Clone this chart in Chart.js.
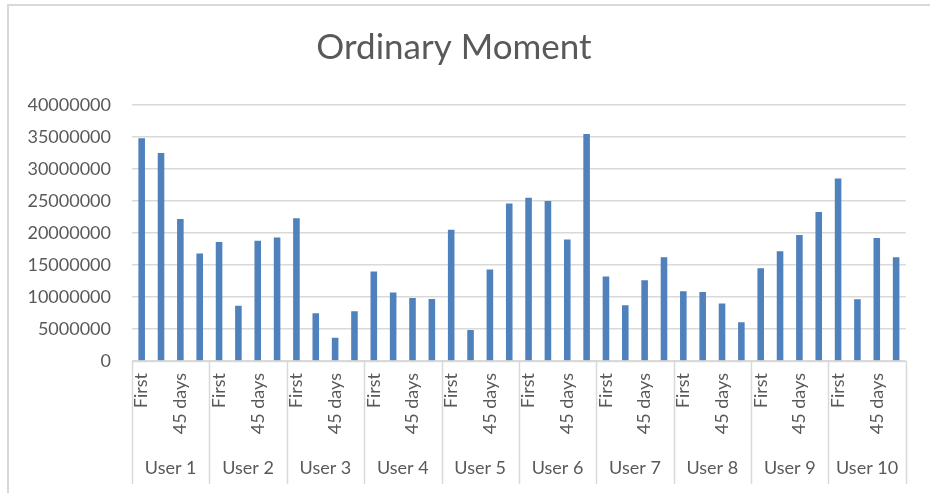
<!DOCTYPE html>
<html>
<head>
<meta charset="utf-8">
<script src="https://cdn.jsdelivr.net/npm/chart.js@4.4.1/dist/chart.umd.min.js"></script>
<style>
  html, body { margin: 0; padding: 0; background: #ffffff; }
  #wrap { position: relative; width: 930px; height: 493px; overflow: hidden; }
  #frame { position: absolute; left: 7px; top: 4px; width: 940px; height: 500px;
           border-left: 2px solid #d9d9d9; border-top: 2px solid #d9d9d9; box-sizing: border-box; }
  canvas { position: absolute; left: 0; top: 0; }
</style>
</head>
<body>
<div id="wrap">
  <div id="frame"></div>
  <canvas id="c" width="930" height="493"></canvas>
</div>
<script>
// ---- data ----
const users = ['User 1','User 2','User 3','User 4','User 5','User 6','User 7','User 8','User 9','User 10'];
const innerLabels = ['First', '', '45 days', ''];
const user1  = [34800000, 32500000, 22200000, 16800000];
const user2  = [18600000,  8650000, 18800000, 19300000];
const user3  = [22300000,  7460000,  3650000,  7770000];
const user4  = [14000000, 10700000,  9850000,  9700000];
const user5  = [20500000,  4850000, 14300000, 24600000];
const user6  = [25500000, 25000000, 19000000, 35450000];
const user7  = [13200000,  8700000, 12600000, 16200000];
const user8  = [10900000, 10800000,  9000000,  6050000];
const user9  = [14500000, 17150000, 19700000, 23300000];
const user10 = [28500000,  9650000, 19200000, 16200000];
const yTicks = [0, 5000000, 10000000, 15000000, 20000000, 25000000, 30000000, 35000000, 40000000];

const perUser = [user1, user2, user3, user4, user5, user6, user7, user8, user9, user10];
const labels = [];
const values = [];
perUser.forEach((arr, u) => arr.forEach((v, i) => { labels.push(innerLabels[i]); values.push(v); }));
const groupSize = innerLabels.length;

const FONT = 'Lato, "Open Sans", sans-serif';
const TXT = '#595959';
const GRID = '#d9d9d9';

const separators = {
  id: 'separators',
  afterDraw(chart) {
    const x = chart.scales.x, x2 = chart.scales.x2;
    const ctx = chart.ctx;
    const half = (x.getPixelForValue(1) - x.getPixelForValue(0)) / 2;
    ctx.save();
    ctx.strokeStyle = GRID;
    ctx.lineWidth = 1.5;
    for (let g = 0; g <= users.length; g++) {
      const px = Math.round(x.getPixelForValue(g * groupSize) - half) + 0.5;
      ctx.beginPath();
      ctx.moveTo(px, x.top);
      ctx.lineTo(px, x2.bottom);
      ctx.stroke();
    }
    // axis line
    ctx.beginPath();
    ctx.moveTo(chart.chartArea.left, x.top + 0.5);
    ctx.lineTo(chart.chartArea.right, x.top + 0.5);
    ctx.stroke();
    ctx.restore();
  }
};

new Chart(document.getElementById('c'), {
  type: 'bar',
  data: {
    labels: labels,
    datasets: [{
      data: values,
      backgroundColor: '#4f81bd',
      borderWidth: 0,
      barPercentage: 0.34,
      categoryPercentage: 1.0
    }]
  },
  options: {
    responsive: false,
    animation: false,
    devicePixelRatio: 1,
    layout: { padding: { left: 0, right: 22, top: 0, bottom: 9 } },
    plugins: {
      legend: { display: false },
      tooltip: { enabled: false },
      title: {
        display: true,
        text: 'Ordinary Moment',
        color: TXT,
        font: { family: FONT, size: 35, weight: 'normal', lineHeight: 1.2 },
        padding: { top: 27, bottom: 36 }
      }
    },
    scales: {
      y: {
        min: 0, max: 40000000,
        afterFit(s) { s.width = 132; },
        afterBuildTicks(s) { s.ticks = yTicks.map(v => ({ value: v })); },
        ticks: { color: TXT, font: { family: FONT, size: 18 }, padding: 21,
                 callback: v => String(v) },
        grid: { color: GRID, lineWidth: 1.5, drawTicks: false },
        border: { display: false }
      },
      x: {
        afterFit(s) { s.height = 88; },
        ticks: { color: TXT, font: { family: FONT, size: 18 }, maxRotation: 90, minRotation: 90,
                 autoSkip: false, padding: 12 },
        grid: { display: false, drawTicks: false },
        border: { display: false }
      },
      x2: {
        type: 'category',
        labels: users,
        position: 'bottom',
        afterFit(s) { s.height = 35; },
        ticks: { color: TXT, font: { family: FONT, size: 18 }, maxRotation: 0, minRotation: 0,
                 autoSkip: false, padding: 8 },
        grid: { display: false, drawTicks: false },
        border: { display: false }
      }
    }
  },
  plugins: [separators]
});
</script>
</body>
</html>
